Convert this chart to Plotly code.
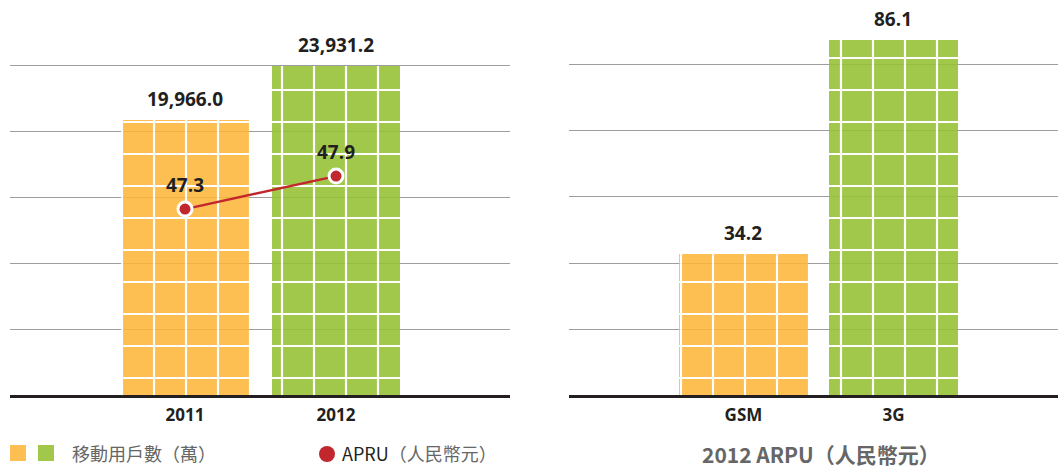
import plotly.graph_objects as go

# ---- data ----
years = ["2011", "2012"]
subscribers = [19966.0, 23931.2]          # 移動用戶數(萬)
arpu_line = [47.3, 47.9]                  # APRU(人民幣元)
arpu_types = ["GSM", "3G"]
arpu_2012 = [34.2, 86.1]                  # 2012 ARPU (人民幣元)
bar_colors = ["#FDB63A", "#95C033"]       # orange, green (drawn with opacity)

W, H = 1058, 468
LAT = "'Open Sans', 'DejaVu Sans', sans-serif"
CJK = "'Noto Sans CJK TC', 'Noto Sans', sans-serif"
DARK = "#231f20"

def px_x(p):
    return p / W

def px_y(p):
    return (H - p) / H

fig = go.Figure()

def add_bars(cats, vals, xa, ya, width):
    for cat, val, col in zip(cats, vals, bar_colors):
        fig.add_trace(go.Bar(
            x=[cat], y=[val], xaxis=xa, yaxis=ya,
            marker=dict(color=col, line=dict(width=0), opacity=0.88,
                        pattern=dict(shape="+", fgcolor="white", bgcolor=col, fgopacity=1,
                                     size=32, solidity=0.13, fillmode="overlay")),
            width=width, showlegend=False, hoverinfo="skip",
        ))

add_bars(years, subscribers, "x", "y", 0.848)
fig.add_trace(go.Scatter(
    x=years, y=arpu_line, xaxis="x", yaxis="y3", mode="lines+markers",
    line=dict(color="#C1272D", width=2.5),
    marker=dict(color="#C1272D", size=14, line=dict(color="white", width=3)),
    showlegend=False, hoverinfo="skip", cliponaxis=False,
))
add_bars(arpu_types, arpu_2012, "x2", "y2", 0.86)

VAL_FONT = dict(family=LAT, size=19, color=DARK, weight="bold")
annotations = []
for i, v in enumerate(subscribers):
    annotations.append(dict(x=i, y=v, xref="x", yref="y", text=f"{v:,.1f}",
                            showarrow=False, yanchor="bottom", yshift=6, font=VAL_FONT))
for i, v in enumerate(arpu_line):
    annotations.append(dict(x=i, y=v, xref="x", yref="y3", text=f"{v:.1f}",
                            showarrow=False, yanchor="middle", yshift=24, font=VAL_FONT))
for i, v in enumerate(arpu_2012):
    annotations.append(dict(x=i, y=v, xref="x2", yref="y2", text=f"{v:.1f}",
                            showarrow=False, yanchor="bottom", yshift=6, font=VAL_FONT))

# legend texts and title
annotations.append(dict(x=px_x(70), y=px_y(453), xref="paper", yref="paper",
                        text="移動用戶數（萬）", showarrow=False, xanchor="left", yanchor="middle",
                        font=dict(family=CJK, size=18, color="#666666")))
annotations.append(dict(x=px_x(340), y=px_y(453), xref="paper", yref="paper",
                        text=f"<span style='color:{DARK}'>APRU</span>（人民幣元）",
                        showarrow=False, xanchor="left", yanchor="middle",
                        font=dict(family=CJK, size=18, color="#666666")))
annotations.append(dict(x=px_x(821), y=px_y(454), xref="paper", yref="paper",
                        text="2012 ARPU（人民幣元）", showarrow=False, xanchor="center", yanchor="middle",
                        font=dict(family=CJK, size=21, color="#666666", weight="bold")))

shapes = [
    dict(type="rect", xref="paper", yref="paper", x0=px_x(10), x1=px_x(26), y0=px_y(461), y1=px_y(445),
         fillcolor="#FDBF52", line=dict(width=0)),
    dict(type="rect", xref="paper", yref="paper", x0=px_x(38), x1=px_x(54), y0=px_y(461), y1=px_y(445),
         fillcolor="#A2C84B", line=dict(width=0)),
    dict(type="circle", xref="paper", yref="paper", x0=px_x(319), x1=px_x(335), y0=px_y(462), y1=px_y(446),
         fillcolor="#C1272D", line=dict(width=0)),
]

ydom = [px_y(395), px_y(10)]
common_y = dict(showgrid=True, gridcolor="#9d9d9d", gridwidth=1, showticklabels=False,
                zeroline=False, showline=False, ticks="", tick0=0)
common_x = dict(type="category", showline=True, linecolor=DARK, linewidth=2.5, showgrid=False,
                ticks="", ticklabelstandoff=3,
                tickfont=dict(family=LAT, size=17, color=DARK, weight="bold"))

fig.update_layout(
    width=W, height=H, margin=dict(l=0, r=0, t=0, b=0),
    paper_bgcolor="white", plot_bgcolor="white",
    barmode="overlay", bargap=0,
    xaxis=dict(common_x, domain=[px_x(10), px_x(510)], range=[-1.159, 2.152], anchor="y"),
    yaxis=dict(common_y, domain=ydom, range=[0, 28000], dtick=4800, anchor="x"),
    yaxis3=dict(domain=ydom, range=[43.92, 50.92], overlaying="y", anchor="x",
                visible=False, showgrid=False),
    xaxis2=dict(common_x, domain=[px_x(569), 1.0], range=[-1.163, 2.097], anchor="y2"),
    yaxis2=dict(common_y, domain=ydom, range=[0, 93.33], dtick=16, anchor="x2"),
    annotations=annotations, shapes=shapes,
)

fig.write_html("out.html", config={"displayModeBar": False},
               post_script="document.body.style.margin='0';document.body.style.overflow='hidden';")
